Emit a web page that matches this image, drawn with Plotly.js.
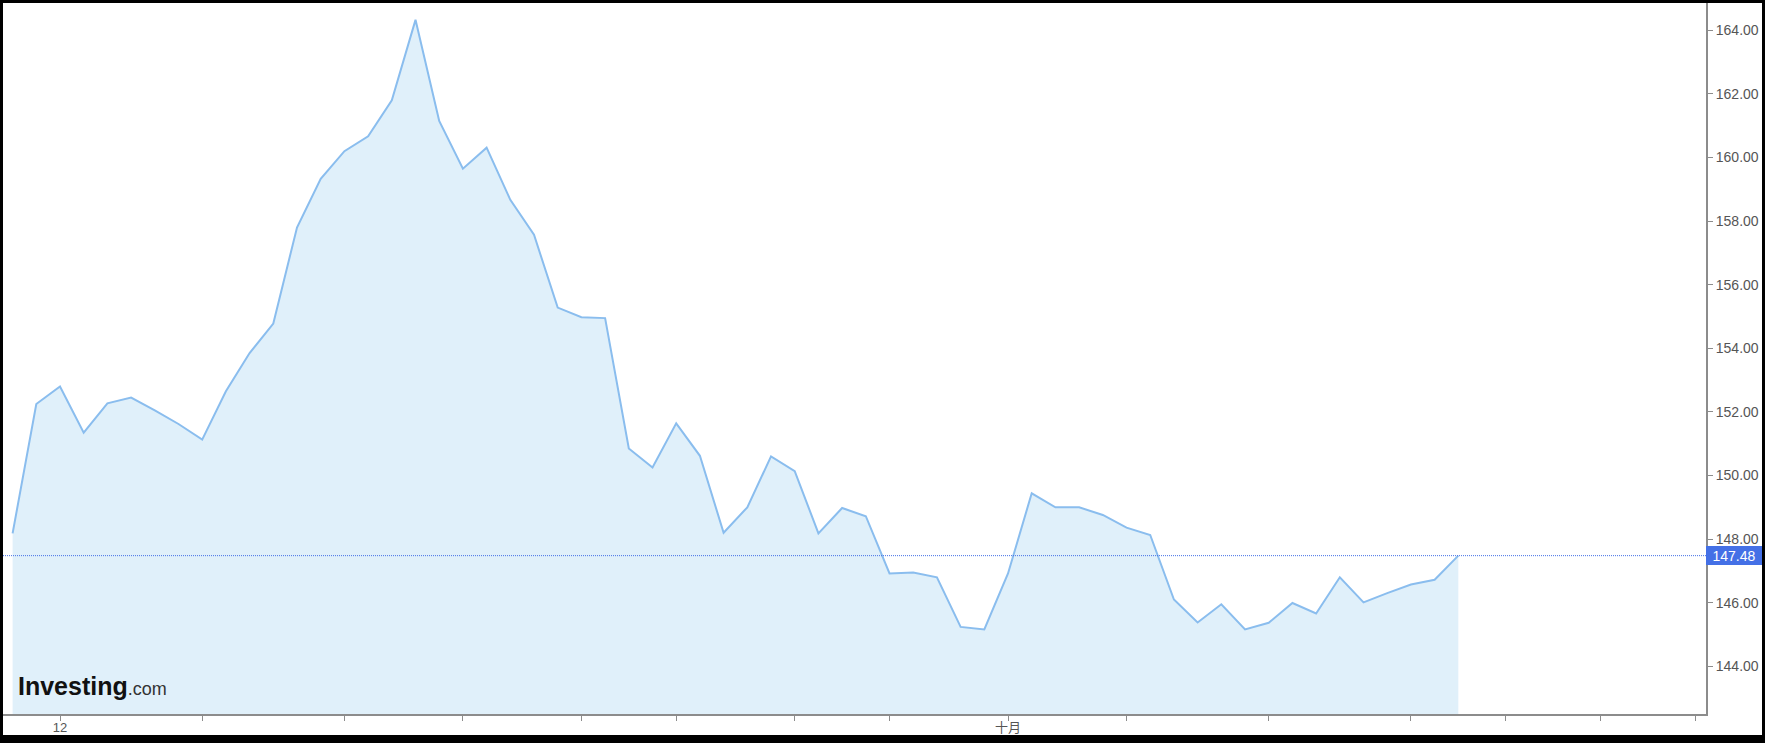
<!DOCTYPE html>
<html>
<head>
<meta charset="utf-8">
<script src="https://cdn.plot.ly/plotly-3.0.1.min.js"></script>
<style>
  html, body { margin: 0; padding: 0; background: #000; width: 1765px; height: 743px; overflow: hidden; }
  #chart { position: absolute; left: 3px; top: 3px; width: 1759px; height: 732px; background: #fff; }
</style>
</head>
<body>
<div id="chart"></div>
<script>
// Closing prices, one per trading session
const prices = [
  148.18, 152.25, 152.80, 151.35, 152.27, 152.45, 152.05, 151.62, 151.13, 152.65,
  153.85, 154.78, 157.80, 159.33, 160.20, 160.67, 161.80, 164.33, 161.15, 159.65,
  160.31, 158.67, 157.57, 155.28, 154.98, 154.95, 150.85, 150.25, 151.64, 150.62,
  148.20, 149.00, 150.60, 150.14, 148.18, 148.98, 148.72, 146.92, 146.95, 146.80,
  145.24, 145.16, 146.92, 149.44, 149.00, 149.00, 148.76, 148.36, 148.13, 146.10,
  145.38, 145.95, 145.16, 145.37, 145.99, 145.66, 146.80, 146.01, 146.30, 146.57,
  146.72, 147.48
];
// session index of each x-axis tick, and its label
const tickSessions = [2, 8, 14, 19, 24, 28, 33, 37, 42, 47, 53, 59, 63, 67, 71];
const tickLabels   = ['12', '', '', '', '', '', '', '', '十月', '', '', '', '', '', ''];
const lastPrice = prices[prices.length - 1];
const sessions = prices.map((_, i) => i);

const textFont = 'Liberation Sans, Arial, Noto Sans CJK SC, sans-serif';
const axisGray = '#8c8c8c';
const blue = '#4470e6';

const trace = {
  x: sessions,
  y: prices,
  type: 'scatter',
  mode: 'lines',
  line: { color: '#8abdee', width: 2 },
  fill: 'tozeroy',
  fillcolor: '#e0f0fa',
  hoverinfo: 'skip'
};

const layout = {
  width: 1759,
  height: 732,
  margin: { l: 0, r: 56, t: 0, b: 21, pad: 0 },
  paper_bgcolor: '#ffffff',
  plot_bgcolor: '#ffffff',
  showlegend: false,
  font: { family: textFont, color: '#555555', size: 14 },
  xaxis: {
    range: [-0.405, 71.45],
    tickmode: 'array',
    tickvals: tickSessions,
    ticktext: tickLabels,
    ticks: 'outside',
    ticklen: 5,
    tickwidth: 1,
    tickcolor: axisGray,
    ticklabelstandoff: -5,
    showline: true,
    linecolor: axisGray,
    linewidth: 2,
    showgrid: false,
    zeroline: false,
    tickfont: { family: textFont, size: 13, color: '#555555' },
    automargin: false,
    fixedrange: true
  },
  yaxis: {
    side: 'right',
    range: [142.5, 164.86],
    tick0: 0,
    dtick: 2,
    tickformat: '.2f',
    ticks: 'outside',
    ticklen: 5,
    tickwidth: 1,
    tickcolor: axisGray,
    showline: true,
    linecolor: axisGray,
    linewidth: 2,
    showgrid: false,
    zeroline: false,
    tickfont: { family: textFont, size: 14, color: '#555555' },
    automargin: false,
    fixedrange: true
  },
  shapes: [
    {
      type: 'line', xref: 'paper', x0: 0, x1: 1, yref: 'y', y0: lastPrice, y1: lastPrice,
      line: { color: blue, width: 1, dash: '1px,1px' }
    }
  ],
  annotations: [
    {
      xref: 'paper', x: 1, xanchor: 'left', yref: 'y', y: lastPrice, yanchor: 'middle',
      text: lastPrice.toFixed(2), showarrow: false,
      bgcolor: blue, borderpad: 0, borderwidth: 0, width: 56, height: 19, align: 'center',
      font: { family: textFont, size: 14, color: '#ffffff' }
    },
    {
      xref: 'paper', x: 0, xanchor: 'left', xshift: 13,
      yref: 'paper', y: 0, yanchor: 'bottom', yshift: 12,
      showarrow: false, align: 'left',
      text: '<b>Investing</b><span style="font-size:18px;color:#333333">.com</span>',
      font: { family: textFont, size: 25, color: '#111111' }
    }
  ]
};

Plotly.newPlot('chart', [trace], layout, { displayModeBar: false, staticPlot: true });
</script>
</body>
</html>
